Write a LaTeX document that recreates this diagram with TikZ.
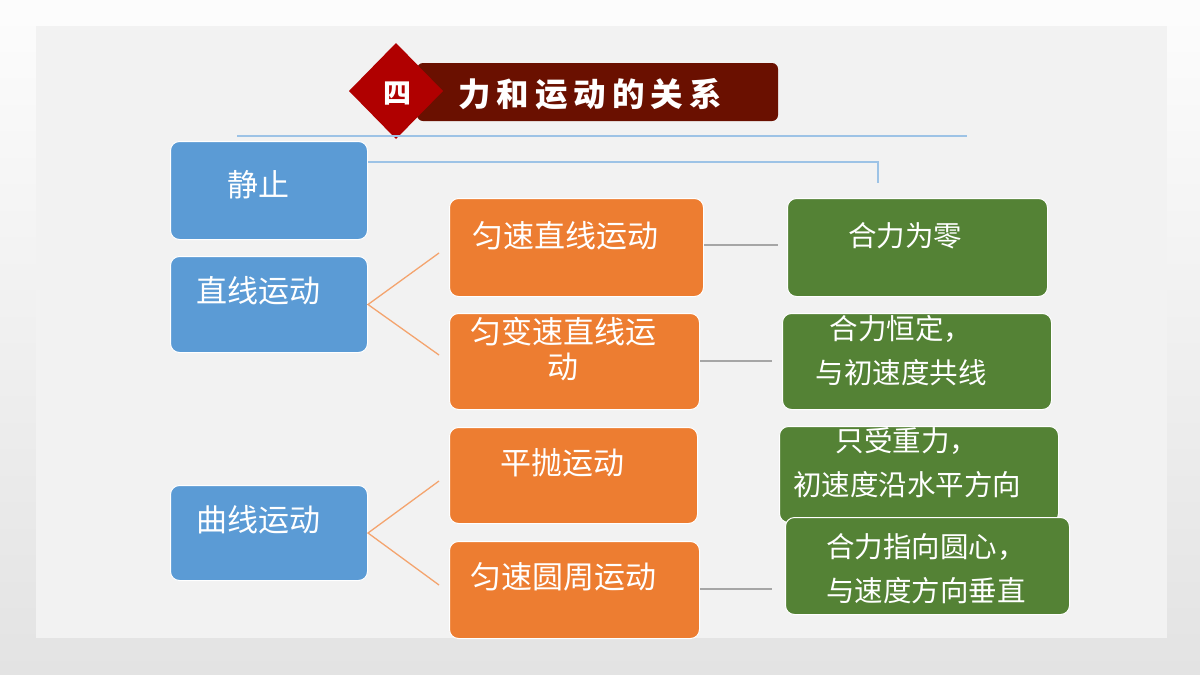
\documentclass[tikz,border=0pt]{standalone}
\usepackage{fontspec}
\newfontfamily\cjk{Noto Sans CJK SC}
\definecolor{panelgray}{HTML}{F2F2F2}
\definecolor{bblue}{HTML}{5B9BD5}
\definecolor{borange}{HTML}{ED7D31}
\definecolor{bgreen}{HTML}{548235}
\definecolor{maroon}{HTML}{6A1000}
\definecolor{dred}{HTML}{B00000}
\definecolor{lblue}{HTML}{9DC3E6}
\definecolor{lorange}{HTML}{F4A46E}
\definecolor{lgray}{HTML}{A6A6A6}
\begin{document}
\begin{tikzpicture}[x=1pt,y=-1pt,
  box/.style={rounded corners=9pt, draw=white, line width=1pt, anchor=north west, inner sep=0pt},
  bluebox/.style={box, fill=bblue},
  orangebox/.style={box, fill=borange},
  greenbox/.style={box, fill=bgreen},
  txt/.style={text=white, inner sep=0pt, font=\cjk\fontsize{31}{36}\selectfont, align=center},
  gtxt/.style={text=white, inner sep=0pt, font=\cjk\fontsize{28.5}{44}\selectfont, align=center},
  oconn/.style={draw=lorange, line width=1.3pt},
  gconn/.style={draw=lgray, line width=1.2pt},
  bconn/.style={draw=lblue, line width=1.6pt}]
\useasboundingbox (0,0) rectangle (1200,675);
% background
\shade[top color=white!98!gray, bottom color=gray!22] (0,0) rectangle (1200,675);
\fill[panelgray] (36,26) rectangle (1167,638);
% title
\fill[maroon, rounded corners=6pt] (417,63) rectangle (778,121);
\fill[dred] (396,43) -- (443,91) -- (396,139) -- (349,91) -- cycle;
\node[text=white, inner sep=0pt, font=\cjk\bfseries\fontsize{28}{30}\selectfont] (num) at (397,94) {四};
\node[text=white, inner sep=0pt, font=\cjk\bfseries\fontsize{32.5}{34}\selectfont] (title) at (590,94)
  {力\hspace{6pt}和\hspace{6pt}运\hspace{6pt}动\hspace{6pt}的\hspace{6pt}关\hspace{6pt}系};
% blue lines
\coordinate (l1a) at (237,136);
\coordinate (l1b) at (967,136);
\draw[bconn] (l1a) -- (l1b);
% blue boxes
\node[bluebox, minimum width=197pt, minimum height=98pt] (b1) at (170,141) {};
\node[bluebox, minimum width=197pt, minimum height=96pt] (b2) at (170,256) {};
\node[bluebox, minimum width=197pt, minimum height=95pt] (b3) at (170,485) {};
\node[txt] (tb1) at (258,185) {静止};
\node[txt] (tb2) at (258,291) {直线运动};
\node[txt] (tb3) at (258,520) {曲线运动};
\coordinate (l2b) at (878,162);
\coordinate (l2c) at (878,183);
\draw[bconn] (b1.east |- l2b) -- (l2b) -- (l2c);
% orange boxes
\node[orangebox, minimum width=254pt, minimum height=98pt] (o1) at (449,198) {};
\node[orangebox, minimum width=250pt, minimum height=96pt] (o2) at (449,313) {};
\node[orangebox, minimum width=248pt, minimum height=96pt] (o3) at (449,427) {};
\node[orangebox, minimum width=250pt, minimum height=97pt] (o4) at (449,541) {};
\node[txt] (to1) at (565,236) {匀速直线运动};
\node[txt, font=\cjk\fontsize{31}{35}\selectfont] (to2) at (563,349) {匀变速直线运\\动};
\node[txt] (to3) at (562,463) {平抛运动};
\node[txt] (to4) at (563,577) {匀速圆周运动};
% orange connectors
\coordinate (c1) at (439,253);
\coordinate (c2) at (439,355);
\coordinate (c3) at (439,481);
\coordinate (c4) at (439,585);
\draw[oconn] (c1) -- (b2.east) -- (c2);
\draw[oconn] (c3) -- (b3.east) -- (c4);
% green boxes
\node[greenbox, minimum width=260pt, minimum height=98pt] (g1) at (787,198) {};
\node[greenbox, minimum width=269pt, minimum height=96pt] (g2) at (782,313) {};
\node[greenbox, minimum width=279pt, minimum height=96pt] (g3) at (779,426) {};
\node[greenbox, minimum width=284pt, minimum height=97pt] (g4) at (785,517) {};
\node[gtxt] (tg1) at (905,236) {合力为零};
\node[gtxt] (tg2) at (901,351) {合力恒定，\\与初速度共线};
\node[gtxt] (tg3) at (907,463) {只受重力，\\初速度沿水平方向};
\node[gtxt] (tg4) at (926,569) {合力指向圆心，\\与速度方向垂直};
% gray connectors
\coordinate (d1) at (778,245);
\coordinate (d2) at (772,361);
\coordinate (d4) at (772,589);
\draw[gconn] (o1.east |- d1) -- (d1);
\draw[gconn] (o2.east |- d2) -- (d2);
\draw[gconn] (o4.east |- d4) -- (d4);
\end{tikzpicture}
\end{document}
